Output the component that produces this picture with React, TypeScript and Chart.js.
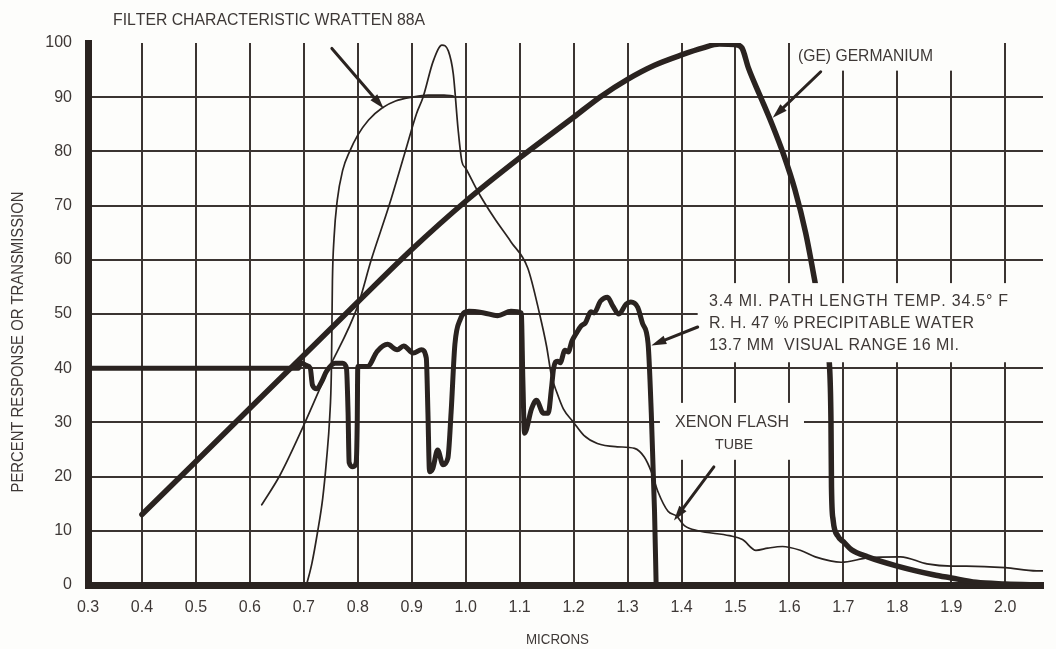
import React, { useEffect, useRef } from 'react';
import { Chart, registerables } from 'chart.js';

Chart.register(...registerables);

// ---------- data ----------
const xTickValues = [0.3, 0.4, 0.5, 0.6, 0.7, 0.8, 0.9, 1.0, 1.1, 1.2, 1.3, 1.4, 1.5, 1.6, 1.7, 1.8, 1.9, 2.0];
const yTickValues = [0, 10, 20, 30, 40, 50, 60, 70, 80, 90, 100];

// (GE) Germanium response
const geX = [0.40, 0.50, 0.60, 0.70, 0.80, 0.90, 1.00, 1.10, 1.20, 1.25, 1.30, 1.35, 1.40, 1.44, 1.47, 1.50, 1.512, 1.524, 1.545, 1.567, 1.59, 1.61, 1.63, 1.648, 1.66, 1.674, 1.677, 1.678, 1.681, 1.69, 1.70, 1.715, 1.745, 1.80, 1.867, 1.90, 1.946, 2.00, 2.07];
const geY = [13.0, 22.8, 32.6, 42.4, 52.2, 61.9, 70.8, 78.8, 86.3, 90.1, 93.3, 95.9, 97.8, 99.1, 99.8, 99.7, 99.1, 95.4, 90.4, 85.2, 79.2, 73.0, 65.0, 55.6, 49.0, 40.9, 30.4, 18.0, 12.0, 9.0, 8.0, 6.5, 5.2, 3.5, 1.9, 1.3, 0.5, 0.2, 0];

// Atmospheric transmission, 3.4 mi path
const waterX = [0.30, 0.69, 0.694, 0.705, 0.712, 0.716, 0.724, 0.733, 0.742, 0.758, 0.772, 0.779, 0.782, 0.784, 0.791, 0.797, 0.799, 0.80, 0.818, 0.836, 0.855, 0.873, 0.885, 0.903, 0.918, 0.927, 0.930, 0.933, 0.939, 0.948, 0.958, 0.967, 0.973, 0.98, 0.99, 1.006, 1.034, 1.059, 1.084, 1.103, 1.106, 1.109, 1.122, 1.131, 1.144, 1.153, 1.159, 1.163, 1.17, 1.175, 1.184, 1.19, 1.197, 1.206, 1.214, 1.222, 1.232, 1.238, 1.25, 1.263, 1.272, 1.284, 1.297, 1.306, 1.319, 1.328, 1.338, 1.344, 1.35, 1.353];
const waterY = [40, 40, 41, 40.5, 40, 36.9, 36.2, 37.5, 39.4, 40.9, 40.9, 40, 31.9, 22.6, 21.8, 22.6, 30, 40.3, 40.3, 43.1, 44.4, 43.4, 44.1, 42.8, 43.4, 41.9, 31.9, 20.9, 21.5, 24.9, 22.2, 23.4, 31.9, 44.4, 49, 50.5, 50.2, 49.7, 50.5, 50.2, 37.8, 28, 32.5, 34.1, 31.7, 31.7, 36.3, 40, 41.3, 41.0, 43.3, 43.0, 45.0, 46.6, 47.8, 48.4, 50.4, 50.2, 52.4, 53.1, 51.6, 50, 51.8, 52.2, 51.2, 48.2, 44.6, 31.7, 13.6, 0];

// Xenon flash tube
const xenonX = [0.622, 0.656, 0.70, 0.742, 0.80, 0.825, 0.858, 0.888, 0.909, 0.921, 0.94, 0.956, 0.968, 0.977, 0.986, 0.993, 1.0, 1.022, 1.053, 1.084, 1.115, 1.137, 1.15, 1.159, 1.169, 1.181, 1.20, 1.219, 1.244, 1.281, 1.313, 1.331, 1.344, 1.356, 1.375, 1.391, 1.406, 1.431, 1.489, 1.513, 1.538, 1.56, 1.587, 1.62, 1.648, 1.696, 1.745, 1.806, 1.855, 1.90, 1.928, 2.0, 2.058, 2.07];
const xenonY = [14.8, 20.3, 29.5, 39, 51.5, 60, 70, 80, 87, 90, 96.7, 99.6, 98.5, 94.3, 84, 78.1, 76.9, 72.7, 67.7, 63.3, 58.5, 50, 44, 38.6, 35.5, 32.5, 30, 27.6, 26.1, 25.5, 25.2, 23.6, 20.9, 17.3, 13.6, 12.7, 10.9, 10, 9.1, 8.4, 6.4, 6.8, 7.1, 6.4, 5.2, 4.2, 5.0, 5.2, 3.9, 3.5, 3.5, 3.2, 2.6, 2.6];

// Filter characteristic Wratten 88A
const filterX = [0.705, 0.715, 0.725, 0.735, 0.742, 0.748, 0.751, 0.752, 0.753, 0.756, 0.762, 0.772, 0.785, 0.80, 0.82, 0.845, 0.87, 0.90, 0.93, 0.96, 0.977];
const filterY = [0, 4, 9.5, 16, 23, 31, 39, 47, 56, 64, 71, 76.5, 80, 83, 85.8, 88, 89.3, 90, 90.4, 90.4, 90.2];

// ---------- styles ----------
const BG = '#fdfdfb';
const INK = '#2a2320';
const GRID = '#3b3431';
const TXT = '#3e3836';
const FONT = '"Liberation Sans", Arial, sans-serif';

// white masks behind notes (data units)
const masks = [
  { x0: 1.61, x1: 1.945, y0: 94.9, y1: 102 },
  { x0: 1.43, x1: 2.2, y0: 41.1, y1: 55.7 },
  { x0: 1.36, x1: 1.627, y0: 23.1, y1: 33.6 },
];

// arrows (data units)
const arrows = [
  { x0: 0.752, y0: 99.0, x1: 0.848, y1: 87.9 },
  { x0: 1.658, y0: 94.7, x1: 1.569, y1: 86.2 },
  { x0: 1.43, y0: 47.6, x1: 1.344, y1: 44.2 },
  { x0: 1.46, y0: 21.8, x1: 1.386, y1: 11.9 },
];

// text notes (pixel boxes: left, right, center y)
const notes = [
  { t: 'FILTER CHARACTERISTIC WRATTEN 88A', l: 113, r: 425, y: 21, s: 16 },
  { t: '(GE) GERMANIUM', l: 798, r: 933, y: 57, s: 16 },
  { t: '3.4 MI. PATH LENGTH TEMP. 34.5° F', l: 709, r: 1008, y: 301.5, s: 16 },
  { t: 'R. H. 47 % PRECIPITABLE WATER', l: 709, r: 974, y: 323.5, s: 16 },
  { t: '13.7 MM  VISUAL RANGE 16 MI.', l: 709, r: 959, y: 345.5, s: 16 },
  { t: 'XENON FLASH', l: 675, r: 789, y: 423, s: 16 },
  { t: 'TUBE', l: 715, r: 753, y: 445, s: 15 },
  { t: 'MICRONS', l: 526, r: 589, y: 640, s: 15 },
];
const yTitle = { t: 'PERCENT RESPONSE OR TRANSMISSION', cx: 19, cy: 342, len: 301, s: 16 };

function drawSpaced(ctx: CanvasRenderingContext2D, text: string, x0: number, x1: number, yc: number, size: number) {
  ctx.font = `${size}px ${FONT}`;
  ctx.textAlign = 'left';
  ctx.textBaseline = 'middle';
  const chars = Array.from(text);
  const widths = chars.map((c) => ctx.measureText(c).width);
  const total = widths.reduce((a, b) => a + b, 0);
  const target = x1 - x0;
  if (total > target) {
    ctx.save();
    ctx.translate(x0, yc);
    ctx.scale(target / total, 1);
    let cx = 0;
    chars.forEach((c, i) => {
      ctx.fillText(c, cx, 0);
      cx += widths[i];
    });
    ctx.restore();
    return;
  }
  const gap = chars.length > 1 ? (target - total) / (chars.length - 1) : 0;
  let cx = x0;
  chars.forEach((c, i) => {
    ctx.fillText(c, cx, yc);
    cx += widths[i] + gap;
  });
}

function drawArrow(ctx: CanvasRenderingContext2D, x0: number, y0: number, x1: number, y1: number) {
  const ang = Math.atan2(y1 - y0, x1 - x0);
  const L = 15;
  const W = 4.5;
  const c = Math.cos(ang);
  const s = Math.sin(ang);
  ctx.beginPath();
  ctx.moveTo(x0, y0);
  ctx.lineTo(x1 - c * (L - 2), y1 - s * (L - 2));
  ctx.stroke();
  ctx.beginPath();
  ctx.moveTo(x1, y1);
  ctx.lineTo(x1 - L * c + W * s, y1 - L * s - W * c);
  ctx.lineTo(x1 - L * c - W * s, y1 - L * s + W * c);
  ctx.closePath();
  ctx.fill();
}

const notesPlugin = {
  id: 'notesPlugin',
  beforeDraw(chart: any) {
    const { ctx, width, height } = chart;
    ctx.save();
    ctx.fillStyle = BG;
    ctx.fillRect(0, 0, width, height);
    ctx.restore();
  },
  afterDatasetsDraw(chart: any) {
    const { ctx } = chart;
    const xs = chart.scales.x;
    const ys = chart.scales.y;
    ctx.save();
    ctx.fillStyle = BG;
    masks.forEach((m) => {
      const a = xs.getPixelForValue(m.x0);
      const b = Math.min(xs.getPixelForValue(m.x1), chart.chartArea.right + 2);
      const top = ys.getPixelForValue(m.y1);
      const bot = ys.getPixelForValue(m.y0);
      ctx.fillRect(a, top, b - a, bot - top);
    });
    ctx.strokeStyle = INK;
    ctx.fillStyle = INK;
    ctx.lineWidth = 3;
    ctx.lineCap = 'round';
    arrows.forEach((ar) => {
      drawArrow(ctx, xs.getPixelForValue(ar.x0), ys.getPixelForValue(ar.y0), xs.getPixelForValue(ar.x1), ys.getPixelForValue(ar.y1));
    });
    ctx.fillStyle = TXT;
    notes.forEach((n) => drawSpaced(ctx, n.t, n.l, n.r, n.y, n.s));
    ctx.translate(yTitle.cx, yTitle.cy);
    ctx.rotate(-Math.PI / 2);
    drawSpaced(ctx, yTitle.t, -yTitle.len / 2, yTitle.len / 2, 0, yTitle.s);
    ctx.restore();
  },
};

const pts = (xs: number[], ys: number[]) => xs.map((x, i) => ({ x, y: ys[i] }));

const lineDs = (label: string, xs: number[], ys: number[], w: number) => ({
  label,
  data: pts(xs, ys),
  showLine: true,
  borderColor: INK,
  backgroundColor: INK,
  borderWidth: w,
  pointRadius: 0,
  cubicInterpolationMode: 'monotone',
  fill: false,
  borderJoinStyle: 'round',
  borderCapStyle: 'round',
});

export default function App() {
  const ref = useRef<HTMLCanvasElement | null>(null);
  useEffect(() => {
    if (!ref.current) return;
    const chart = new Chart(ref.current, {
      type: 'scatter',
      data: {
        datasets: [
          lineDs('Wratten 88A filter', filterX, filterY, 1.7),
          lineDs('Xenon flash tube', xenonX, xenonY, 1.7),
          lineDs('Atmospheric transmission', waterX, waterY, 5),
          lineDs('(GE) Germanium', geX, geY, 5.5),
        ] as any,
      },
      options: {
        animation: false,
        responsive: false,
        events: [],
        layout: { padding: { top: 43, right: 13, bottom: 0, left: 0 } },
        plugins: { legend: { display: false }, tooltip: { enabled: false }, title: { display: false } },
        scales: {
          x: {
            type: 'linear',
            min: 0.3,
            max: 2.07,
            afterBuildTicks: (s: any) => {
              s.ticks = xTickValues.map((v) => ({ value: v }));
            },
            afterFit: (s: any) => {
              s.height = 64;
            },
            grid: { color: GRID, lineWidth: 2, drawTicks: false },
            border: { display: true, color: INK, width: 7 },
            ticks: {
              padding: 13,
              autoSkip: false,
              maxRotation: 0,
              color: TXT,
              font: { family: FONT, size: 16 },
              callback: (v: any) => Number(v).toFixed(1),
            },
          },
          y: {
            type: 'linear',
            min: 0,
            max: 100,
            afterBuildTicks: (s: any) => {
              s.ticks = yTickValues.map((v) => ({ value: v }));
            },
            afterFit: (s: any) => {
              s.width = 88;
            },
            grid: {
              color: (c: any) => (c.tick && c.tick.value === 100 ? 'rgba(0,0,0,0)' : GRID),
              lineWidth: 2,
              drawTicks: false,
            },
            border: { display: true, color: INK, width: 7 },
            ticks: {
              padding: 16,
              color: TXT,
              font: { family: FONT, size: 16 },
              callback: (v: any) => String(v),
            },
          },
        },
      } as any,
      plugins: [notesPlugin],
    });
    return () => chart.destroy();
  }, []);
  return (
    <div style={{ position: 'fixed', left: 0, top: 0, width: 1056, height: 649, background: BG }}>
      <canvas ref={ref} width={1056} height={649} />
    </div>
  );
}
